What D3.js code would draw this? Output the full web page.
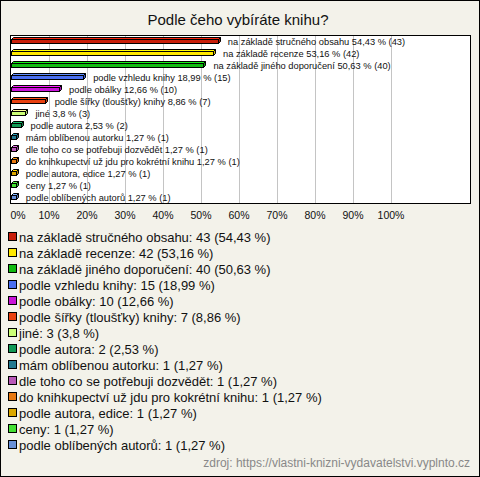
<!DOCTYPE html>
<html>
<head>
<meta charset="utf-8">
<script src="https://cdn.jsdelivr.net/npm/d3@7"></script>
<style>
  body { margin: 0; background: #fff; }
  svg text { font-family: "Liberation Sans", Arial, sans-serif; }
</style>
</head>
<body>
<svg id="chart"></svg>
<script>
var title = "Podle čeho vybíráte knihu?"

var categories = [
    "na základě stručného obsahu",
    "na základě recenze",
    "na základě jiného doporučení",
    "podle vzhledu knihy",
    "podle obálky",
    "podle šířky (tloušťky) knihy",
    "jiné",
    "podle autora",
    "mám oblíbenou autorku",
    "dle toho co se potřebuji dozvědět",
    "do knihkupectví už jdu pro kokrétní knihu",
    "podle autora, edice",
    "ceny",
    "podle oblíbených autorů"
]

var counts = [43, 42, 40, 15, 10, 7, 3, 2, 1, 1, 1, 1, 1, 1]

var percents = [54.43, 53.16, 50.63, 18.99, 12.66, 8.86, 3.8, 2.53, 1.27, 1.27, 1.27, 1.27, 1.27, 1.27]

var colors = ["#c81e0a", "#ffe800", "#11bb11", "#4a6ff0", "#c814d8", "#e84010",
              "#ccff77", "#119955", "#237a90", "#b858b8", "#e87810", "#dca800",
              "#44e033", "#6890d8"]

var ticks = [0, 10, 20, 30, 40, 50, 60, 70, 80, 90, 100]

var source = "zdroj: https://vlastni-knizni-vydavatelstvi.vyplnto.cz"

var fmt = function(v) { return String(v).replace(".", ",") }

var screen = {width: 480, height: 477}
var plot = {left: 10, top: 35, right: 470, bottom: 203}

var svg = d3.select("#chart")
    .attr("width", screen.width)
    .attr("height", screen.height)

// background + outer frame
svg.append("rect")
    .attr("x", 0.5).attr("y", 0.5)
    .attr("width", screen.width - 1).attr("height", screen.height - 1)
    .attr("fill", "#f3f2ea")
    .attr("stroke", "#000")

svg.append("text")
    .text(title)
    .attr("x", 238)
    .attr("y", 25)
    .attr("text-anchor", "middle")
    .attr("font-size", 15)
    .attr("fill", "#111")

var xScale = d3.scaleLinear()
    .domain([0, 100])
    .range([11, 391])

var yScale = d3.scaleBand()
    .domain(categories)
    .range([plot.top, plot.bottom])

// plot area
svg.append("rect")
    .attr("x", plot.left + 0.5).attr("y", plot.top + 0.5)
    .attr("width", plot.right - plot.left).attr("height", plot.bottom - plot.top)
    .attr("fill", "#fff")

svg.append("g")
    .selectAll("line")
    .data(ticks.slice(1))
    .enter()
    .append("line")
    .attr("x1", function(t) { return Math.round(xScale(t)) + 0.5 })
    .attr("x2", function(t) { return Math.round(xScale(t)) + 0.5 })
    .attr("y1", plot.top)
    .attr("y2", plot.bottom)
    .attr("stroke", "#c4c4c4")

svg.append("rect")
    .attr("x", plot.left + 0.5).attr("y", plot.top + 0.5)
    .attr("width", plot.right - plot.left).attr("height", plot.bottom - plot.top)
    .attr("fill", "none")
    .attr("stroke", "#000")

// tick labels
svg.append("g")
    .selectAll("text")
    .data(ticks)
    .enter()
    .append("text")
    .text(function(t) { return t + "%" })
    .attr("x", function(t) { return t == 0 ? 18 : xScale(t) })
    .attr("y", 219)
    .attr("text-anchor", "middle")
    .attr("font-size", 10.5)
    .attr("fill", "#111")

// 3d bars
var depth = 2
var bars = svg.append("g")
    .selectAll("g")
    .data(categories)
    .enter()
    .append("g")

bars.each(function(cat, i) {
    var g = d3.select(this)
    var c = yScale(cat) + yScale.bandwidth() / 2
    var x0 = xScale(0) + 0.5
    var x1 = Math.round(xScale(percents[i])) + 0.5
    var yt = Math.round(c) - 1.5
    var yb = yt + 4
    var col = d3.color(colors[i])

    g.append("path")
        .attr("d", "M" + x0 + "," + yt + "L" + (x0 + depth) + "," + (yt - depth) +
                   "L" + (x1 + depth) + "," + (yt - depth) + "L" + x1 + "," + yt + "Z")
        .attr("fill", col.brighter(0.7))
        .attr("stroke", "#000")
    g.append("path")
        .attr("d", "M" + x1 + "," + yt + "L" + (x1 + depth) + "," + (yt - depth) +
                   "L" + (x1 + depth) + "," + (yb - depth) + "L" + x1 + "," + yb + "Z")
        .attr("fill", col.darker(0.6))
        .attr("stroke", "#000")
    g.append("rect")
        .attr("x", x0).attr("y", yt)
        .attr("width", x1 - x0).attr("height", yb - yt)
        .attr("fill", col)
        .attr("stroke", "#000")

    g.append("text")
        .text(cat + " " + fmt(percents[i]) + " % (" + counts[i] + ")")
        .attr("x", xScale(percents[i]) + 10)
        .attr("y", c + 3.5)
        .attr("font-size", 9.3)
        .attr("fill", "#111")
})

// legend
var legend = svg.append("g")
    .selectAll("g")
    .data(categories)
    .enter()
    .append("g")
    .attr("transform", function(cat, i) { return "translate(0," + (237 + i * 16) + ")" })

legend.append("rect")
    .attr("x", 8.5).attr("y", -4.5)
    .attr("width", 8).attr("height", 8)
    .attr("fill", function(cat, i) { return colors[i] })
    .attr("stroke", "#000")

legend.append("text")
    .text(function(cat, i) { return cat + ": " + counts[i] + " (" + fmt(percents[i]) + " %)" })
    .attr("x", 19)
    .attr("y", 5)
    .attr("font-size", 13)
    .attr("fill", "#111")

svg.append("text")
    .text(source)
    .attr("x", 470)
    .attr("y", 467)
    .attr("text-anchor", "end")
    .attr("font-size", 12)
    .attr("fill", "#888")
</script>
</body>
</html>
